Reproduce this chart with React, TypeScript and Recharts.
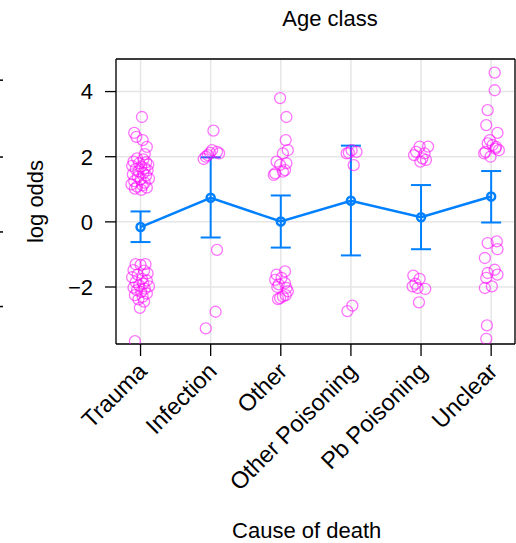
import React from 'react'
import {
  ComposedChart,
  Scatter,
  Line,
  ErrorBar,
  XAxis,
  YAxis,
  CartesianGrid,
} from 'recharts'

const causes = ['Trauma', 'Infection', 'Other', 'Other Poisoning', 'Pb Poisoning', 'Unclear']
const causeIdx = [1, 2, 3, 4, 5, 6]

// model estimate + interval per cause
const meanLogOdds = [-0.16, 0.74, 0.01, 0.65, 0.14, 0.78]
const ciLow = [-0.62, -0.48, -0.79, -1.03, -0.84, -0.02]
const ciHigh = [0.32, 1.98, 0.81, 2.34, 1.13, 1.56]

const yTicks = [-2, 0, 2, 4]
// stray ticks of the neighbouring panel, cut off at the left edge
const edgeTicks = [4.35, 1.99, -0.31, -2.6]

// raw points: [jitter, log odds]
const traumaPts = [
  [0.02, 3.22], [-0.09, 2.73], [-0.06, 2.61], [0.03, 2.51], [0.09, 2.3], [0.06, 2.08],
  [-0.05, 1.95], [0.04, 1.92], [-0.1, 1.85], [0.08, 1.83], [-0.02, 1.8], [0.11, 1.76],
  [-0.12, 1.72], [0.01, 1.7], [0.06, 1.65], [-0.07, 1.62], [0.1, 1.58], [-0.03, 1.55],
  [0.04, 1.5], [-0.11, 1.46], [0.08, 1.42], [-0.04, 1.38], [0.12, 1.33], [0.0, 1.3],
  [-0.09, 1.25], [0.06, 1.2], [-0.13, 1.15], [0.03, 1.12], [-0.05, 1.08], [0.09, 1.05],
  [-0.08, 1.02], [0.01, 0.98],
  [-0.07, -1.3], [0.07, -1.3], [0.0, -1.32], [-0.1, -1.48], [0.05, -1.5], [0.1, -1.58],
  [-0.04, -1.62], [-0.12, -1.7], [0.02, -1.75], [0.09, -1.8], [-0.07, -1.85], [0.04, -1.9],
  [-0.02, -1.95], [0.12, -1.98], [-0.1, -2.02], [0.06, -2.05], [-0.05, -2.1], [0.01, -2.15],
  [0.09, -2.2], [-0.08, -2.25], [0.03, -2.3], [-0.03, -2.38], [0.05, -2.45], [-0.01, -2.64],
  [-0.08, -3.66],
]
const infectionPts = [
  [0.04, 2.8], [-0.1, 1.93], [-0.04, 2.05], [0.02, 2.2], [0.09, 2.15], [-0.01, 2.12],
  [0.12, 2.1], [-0.07, 2.0], [0.09, -0.86], [0.07, -2.76], [-0.07, -3.27],
]
const otherPts = [
  [-0.01, 3.8], [0.08, 3.22], [0.07, 2.51], [0.1, 2.2], [0.03, 2.1], [-0.06, 1.85],
  [0.08, 1.8], [-0.01, 1.75], [0.06, 1.59], [-0.08, 1.49], [0.03, 1.54], [-0.1, 1.44],
  [0.06, -1.52], [-0.06, -1.62], [-0.08, -1.78], [0.01, -1.72], [0.06, -1.88], [-0.03, -1.92],
  [0.08, -2.03], [-0.05, -2.0], [0.1, -2.13], [0.03, -2.29], [-0.04, -2.37], [0.07, -2.25],
  [-0.01, -2.34],
]
const otherPoisPts = [
  [-0.06, 2.1], [0.01, 2.2], [0.08, 2.15], [0.04, 1.74], [-0.03, 2.12],
  [0.02, -2.57], [-0.05, -2.74],
]
const pbPoisPts = [
  [-0.1, 2.05], [-0.02, 2.31], [0.1, 2.31], [-0.07, 2.15], [0.02, 1.95], [0.07, 1.9],
  [-0.01, 1.85], [0.05, 2.1],
  [-0.11, -1.65], [-0.02, -1.75], [-0.12, -1.98], [-0.05, -2.03], [0.06, -2.06],
  [-0.03, -2.47], [-0.08, -1.9],
]
const unclearPts = [
  [0.05, 4.58], [0.05, 4.04], [-0.05, 3.43], [-0.07, 2.97], [0.09, 2.73], [-0.02, 2.51],
  [-0.05, 2.41], [0.02, 2.36], [0.07, 2.3], [-0.1, 2.1], [0.11, 2.2], [-0.01, 2.0],
  [0.06, 2.25], [-0.08, 2.15],
  [-0.05, -0.65], [0.08, -0.6], [0.09, -0.84], [-0.09, -1.11], [-0.05, -1.57], [0.05, -1.47],
  [0.09, -1.62], [-0.07, -1.72], [0.01, -1.98], [-0.09, -2.03], [-0.06, -3.18], [-0.07, -3.59],
]

const allPts = [traumaPts, infectionPts, otherPts, otherPoisPts, pbPoisPts, unclearPts]

const summary = causeIdx.map((x, i) => ({
  x,
  mean: meanLogOdds[i],
  err: [meanLogOdds[i] - ciLow[i], ciHigh[i] - meanLogOdds[i]],
}))

const points = allPts.flatMap((pts, i) =>
  pts.map(([dx, y]) => ({ x: causeIdx[i] + dx, y }))
)

const FONT = '"Liberation Sans", Arial, Helvetica, sans-serif'
const BLUE = '#0080ff'

const CauseTick = (props: any) => {
  const { x, y, payload } = props
  const px = x + 2
  const py = y + 9
  return (
    <text
      x={px}
      y={py}
      transform={`rotate(-45, ${px}, ${py})`}
      textAnchor="end"
      dominantBaseline="central"
      fontSize={23.5}
      fontFamily={FONT}
      fill="#000"
    >
      {causes[payload.value - 1]}
    </text>
  )
}

const EdgeTick = () => <g />

const App = () => {
  return (
    <div style={{ position: 'absolute', left: 0, top: 0 }}>
      <ComposedChart
        width={516}
        height={543}
        data={summary}
        margin={{ top: 47, right: 0, bottom: 0, left: 0 }}
      >
        <CartesianGrid stroke="#e6e6e6" strokeWidth={1.5} />
        <XAxis
          dataKey="x"
          type="number"
          domain={[0.65, 6.34]}
          ticks={causeIdx}
          interval={0}
          allowDataOverflow
          height={199}
          tickSize={12}
          tick={<CauseTick />}
          axisLine={{ stroke: '#000', strokeWidth: 1.3 }}
          tickLine={{ stroke: '#000', strokeWidth: 1.3 }}
          label={(p: any) => (
            <text
              x={306.7}
              y={538}
              textAnchor="middle"
              fontSize={22}
              fontFamily={FONT}
              fill="#000"
            >
              Cause of death
            </text>
          )}
        />
        <XAxis
          xAxisId="top"
          orientation="top"
          dataKey="x"
          type="number"
          domain={[0.65, 6.34]}
          ticks={causeIdx}
          interval={0}
          allowDataOverflow
          height={12}
          tickSize={12}
          tick={false}
          axisLine={{ stroke: '#000', strokeWidth: 1.3 }}
          tickLine={{ stroke: '#000', strokeWidth: 1.3 }}
          label={(p: any) => (
            <text
              x={330}
              y={26}
              textAnchor="middle"
              fontSize={22}
              fontFamily={FONT}
              fill="#000"
            >
              Age class
            </text>
          )}
        />
        <YAxis
          type="number"
          domain={[-3.75, 5.0]}
          ticks={yTicks}
          interval={0}
          allowDataOverflow
          width={113}
          tickSize={11}
          tickMargin={12}
          tick={{ fill: '#000', fontSize: 22, fontFamily: FONT }}
          tickFormatter={(v: number) => (v < 0 ? '\u2212' + Math.abs(v) : String(v))}
          axisLine={{ stroke: '#000', strokeWidth: 1.3 }}
          tickLine={{ stroke: '#000', strokeWidth: 1.3 }}
          label={(p: any) => (
            <text
              x={35}
              y={201.5}
              transform="rotate(-90, 35, 201.5)"
              textAnchor="middle"
              dominantBaseline="central"
              fontSize={22}
              fontFamily={FONT}
              fill="#000"
            >
              log odds
            </text>
          )}
        />
        <YAxis
          yAxisId="edge"
          type="number"
          domain={[-3.75, 5.0]}
          ticks={edgeTicks}
          interval={0}
          allowDataOverflow
          width={3}
          tickSize={3}
          tickMargin={0}
          tick={<EdgeTick />}
          axisLine={false}
          tickLine={{ stroke: '#000', strokeWidth: 1.5 }}
        />
        <YAxis
          yAxisId="box"
          orientation="right"
          type="number"
          domain={[-3.75, 5.0]}
          width={1}
          tick={false}
          tickLine={false}
          axisLine={{ stroke: '#000', strokeWidth: 1.3 }}
        />
        <Scatter
          data={points}
          dataKey="y"
          isAnimationActive={false}
          shape={(p: any) => (
            <circle
              cx={p.cx}
              cy={p.cy}
              r={5.5}
              fill="none"
              stroke="#ff00ff"
              strokeOpacity={0.55}
              strokeWidth={1.3}
            />
          )}
        />
        <Line
          dataKey="mean"
          stroke={BLUE}
          strokeWidth={2.5}
          isAnimationActive={false}
          dot={(p: any) => (
            <circle
              key={p.index}
              cx={p.cx}
              cy={p.cy}
              r={4}
              fill="none"
              stroke={BLUE}
              strokeWidth={2.5}
            />
          )}
          activeDot={false}
        >
          <ErrorBar
            dataKey="err"
            direction="y"
            width={10}
            stroke={BLUE}
            strokeWidth={2}
            isAnimationActive={false}
          />
        </Line>
      </ComposedChart>
    </div>
  )
}

export default App
